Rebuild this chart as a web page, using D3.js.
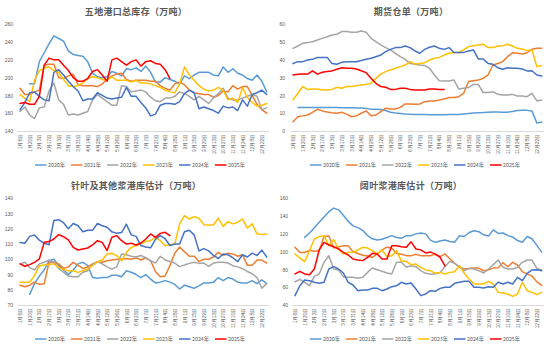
<!DOCTYPE html>
<html><head><meta charset="utf-8">
<script src="https://cdn.jsdelivr.net/npm/d3@7"></script>
<style>
html,body{margin:0;padding:0;background:#fff;}
svg{display:block;font-family:"Noto Sans CJK SC","Noto Sans",sans-serif;}
</style></head>
<body>
<svg id="chart" width="550" height="348"></svg>
<script>
// ---------- categories ----------
const weeks = ["1月6日","1月13日","1月20日","1月27日","2月3日","2月10日","2月17日","2月24日","3月3日","3月10日",
"3月17日","3月24日","3月31日","4月7日","4月14日","4月21日","4月28日","5月5日","5月12日","5月19日",
"5月26日","6月2日","6月9日","6月16日","6月23日","6月30日","7月7日","7月14日","7月21日","7月28日",
"8月4日","8月11日","8月18日","8月25日","9月1日","9月8日","9月15日","9月22日","9月29日","10月6日",
"10月13日","10月20日","10月27日","11月3日","11月10日","11月17日","11月24日","12月1日","12月8日","12月15日",
"12月22日","12月29日"];
const years = ["2020年","2021年","2022年","2023年","2024年","2025年"];
const colors = ["#5B9BD5","#ED7D31","#A5A5A5","#FFC000","#4472C4","#FF0000"];
const titles = ["五地港口总库存（万吨）","期货仓单（万吨）","针叶及其他浆港库估计（万吨）","阔叶浆港库估计（万吨）"];
const yTicks1 = [140,160,180,200,220,240,260];
const yTicks2 = [0,10,20,30,40,50,60];
const yTicks3 = [70,80,90,100,110,120,130,140];
const yTicks4 = [40,60,80,100,120,140,160];
const _ = null;

// ---------- panel 1: 五地港口总库存 ----------
const p1_2020 = [_,_,193,193,218,228,238,247,244,241,230,226,225,224,218,205,201,200,201,207,205,202,210,209,211,207,213,206,195,195,200,198,196,193,202,199,203,206,206,206,203,202,212,206,210,205,203,199,197,203,196,184];
const p1_2021 = [188,181,181,184,186,214,215,215,200,199,202,204,192,191,191,191,190,193,198,202,204,205,198,196,197,197,197,196,196,191,188,186,193,195,192,186,183,182,181,181,178,180,185,184,191,187,190,190,180,170,164,160];
const p1_2022 = [162,167,158,154,166,167,185,194,175,170,158,159,158,160,162,175,181,177,173,169,169,191,190,184,185,186,184,178,174,173,177,177,179,184,182,179,175,179,175,171,177,182,188,177,175,175,177,179,181,179,164,166];
const p1_2023 = [181,177,173,197,208,211,212,208,206,198,191,190,191,194,199,201,200,198,197,201,197,197,197,195,197,194,194,193,191,189,186,184,183,193,212,203,197,191,187,185,186,189,186,175,177,172,189,178,172,168,169,171];
const p1_2024 = [164,172,183,184,179,175,174,206,209,203,196,190,185,174,176,176,183,180,177,176,177,178,189,179,179,172,166,157,159,169,171,171,170,173,182,186,183,165,167,165,163,160,168,166,167,163,175,168,181,183,186,181];
const p1_2025 = [171,172,170,170,179,214,222,220,220,214,208,200,196,196,199,207,209,203,196,220,222,218,214,218,220,213,218,219,216,215,209,199,_,_,_,_,_,_,_,_,_,_,_,_,_,_,_,_,_,_,_,_];

// ---------- panel 2: 期货仓单 ----------
const p2_2020 = [_,13.2,13.2,13.2,13.2,13.2,13.2,13.2,13.2,13.2,13.1,13.1,13.1,13.0,12.9,12.6,12.3,12.2,12.1,11.5,10.5,10.1,9.8,9.5,9.4,9.3,9.3,9.3,9.2,9.1,9.1,9.2,9.3,9.3,9.3,9.6,9.9,10.1,10.3,10.4,10.6,10.7,10.7,10.6,10.6,11.0,11.5,11.6,11.6,11.3,4.5,5.0];
const p2_2021 = [5.2,8.0,8.5,9.0,10.5,12.2,11.3,10.7,10.3,10.0,10.5,9.5,8.0,8.5,10.0,11.3,8.6,9.0,10.9,12.8,12.4,12.4,13.3,15.2,15.2,15.0,15.2,16.5,16.9,16.9,17.4,18.0,18.8,18.8,19.3,21.2,27.8,28.3,28.7,29.6,31.5,37.1,38.0,39.0,41.8,44.0,43.7,43.3,44.0,46.0,46.5,46.5];
const p2_2022 = [46.5,47.8,49.3,49.7,50.2,51.2,52.1,53.0,54.0,54.4,55.9,55.9,55.5,55.5,56.2,55.5,52.1,50.2,48.4,46.9,45.6,43.7,41.8,40.3,38.0,37.5,37.1,36.8,35.3,31.5,28.3,28.1,28.1,28.7,23.6,24.0,24.4,26.2,26.2,21.6,21.6,22.1,20.6,20.2,20.2,20.6,19.7,19.7,19.3,21.2,16.9,17.4];
const p2_2023 = [17.5,21.2,25.0,23.4,23.6,23.6,23.1,23.1,23.4,24.6,24.0,25.0,25.0,25.5,25.9,26.2,26.8,29.6,32.0,33.4,34.3,35.3,36.2,37.1,39.0,37.7,38.0,38.4,39.9,40.9,41.4,42.7,43.7,44.2,44.2,45.6,47.4,48.0,48.4,48.8,46.9,46.9,47.8,48.0,48.8,47.8,46.5,46.1,45.2,45.6,36.2,36.8];
const p2_2024 = [38.0,39.0,39.0,39.9,40.3,41.3,41.4,41.4,38.0,37.5,38.6,39.0,39.0,39.0,39.6,40.3,40.9,41.8,42.7,44.6,45.9,46.9,46.9,47.8,46.9,45.0,43.7,45.9,47.1,47.8,46.5,45.9,46.9,44.1,44.2,44.2,45.0,45.6,40.5,40.5,38.0,37.5,35.6,34.7,35.6,35.3,35.3,34.9,33.8,33.9,31.5,30.9];
const p2_2025 = [31.5,31.9,32.1,32.0,33.8,32.0,33.0,33.4,33.8,34.7,35.6,35.3,35.3,34.9,33.9,32.8,29.6,26.8,25.0,24.6,23.4,23.4,24.0,24.0,23.4,23.1,23.1,23.1,23.6,23.6,23.4,23.4,_,_,_,_,_,_,_,_,_,_,_,_,_,_,_,_,_,_,_,_];

// ---------- panel 3: 针叶及其他浆港库估计 ----------
const p3_2020 = [_,_,77,84,89,93,99,100,96,93,90,93,97,98,96,88,87.5,88,88,89.5,89.5,88.5,92.5,91.5,90,88,90,87,84.5,85,86,85,83.5,80.5,83,82,81,82.5,84.5,84.5,85,88,86,88,87,85,84.5,84.5,86,84,86.5,84];
const p3_2021 = [83,82,83,85,83.5,84,98,98,97,94,95,98,96,94,95,97,98,98,99,99.5,100,100,100.5,100,101,99.5,101,99,92,88.5,89,96,104,108,105,102,102,98.5,100,100,101.5,104.5,102.5,104,103.5,102,103,96,96,99.5,99.5,97.5];
const p3_2022 = [97,98,94.5,93,97,98,99.5,98,94,91.5,89,88.5,88.5,91.5,92.5,97,98.5,97,95,93.5,95,103.5,103,102,101.5,102.5,101,99,97.5,102,99.5,98.5,97.5,95.2,96.3,97.3,98,97.3,97.5,95.4,97.5,98,98,97.5,95.8,95,93.8,92,90.5,88,81,84];
const p3_2023 = [85,85,85,89.3,95.8,96.3,96.5,97,94.7,93.2,92.5,92.5,91.4,92.5,93.6,95.8,98.4,99.5,103.5,103.9,102.4,99,104.6,107.8,108.9,110,111.8,112.2,114.4,112.2,108.9,109.6,110,123.2,128.6,126.4,128,126.9,122.7,122.5,122.5,126.9,121.6,124.7,123.2,124.3,126.4,120.5,123.2,116.6,116.2,116.6];
const p3_2024 = [111,110.5,115,116,112.5,110.5,109.5,125.5,126,124,120,123.5,122,118,119,119,123.5,122,121,118,117,117.5,123,116,115,109,108,107.5,113,115.5,113.5,109,110,110,118,119,116,105.5,107,105.5,102.5,100.5,103.5,103,101,98.5,103,101.5,104,102.5,106,101.5];
const p3_2025 = [97,95.4,96.5,98,100.2,111.1,111.6,113.3,116.2,114.8,112.7,107.8,106.1,106.8,107.4,109.4,112.2,111.1,105.7,114.4,115.5,112.2,110,110.5,109.4,110.7,113.3,116.6,114.4,117,117.7,115.5,_,_,_,_,_,_,_,_,_,_,_,_,_,_,_,_,_,_,_,_];

// ---------- panel 4: 阔叶浆港库估计 ----------
const p4_2020 = [_,_,116,121,127,133,139,145,149,147,141,134,129,127,124,118,114.5,113,114,116,118,116,115,118,118,120,121,120,113,110.5,112,113,111.5,110.5,118,117,121.5,123.5,122.5,119,117.5,124.5,120.5,121,118,116.5,112.5,110.5,117,114.5,107,99.5];
const p4_2021 = [105,99,99,101.5,100.5,101,117,117.5,104,105.5,106.5,106.5,100,98,96,95,93.5,97.5,102,105,104,98,97,95.5,95.5,97,95.5,95.5,95.5,97,94.5,97.5,92,87,82.5,80.5,81,81.5,81.5,78.5,79.5,81.5,82,87.5,83,88,85,77.5,75,72.5,66,62];
const p4_2022 = [66.2,68.9,65.5,61.7,72.2,74.9,88,95.5,80.5,79.4,71.9,71.1,71.1,70,71.1,76.7,81.6,79.7,77.9,76,74.9,88,88,82.4,84.2,83.1,78.6,75.6,74.9,74.9,76.7,83.1,89.1,86.9,83.1,78.6,81.2,80.5,78.6,76,80.5,85.4,90.6,82.4,80.5,80.5,82.4,88,90.6,90.6,81.2,79.4];
const p4_2023 = [97.4,92.9,88.7,101.1,114.2,116.9,118,106.7,113.5,103,97.4,99.2,99.2,101.9,104.9,104.1,101.1,97.4,101.9,94.4,95.5,101.1,89.1,89.1,85.4,86.1,82.4,79.4,78.6,75.6,76.7,74.9,76.7,77.5,84.2,75.6,69.2,63.6,63.6,63.6,66.6,63.6,54.2,53.5,52.4,49.7,52.4,65.5,56.1,54.2,51.6,54.2];
const p4_2024 = [50.5,61.7,68.1,67.4,65.5,64.4,65.5,80.5,83.1,80.5,76,65.5,62.5,56.1,56.9,56.9,58.7,58.7,56.1,58,60.6,61.7,65.5,63.6,64.7,58,50.5,52.4,56.1,55.4,58.7,59.9,59.9,64.4,65.5,66.6,66.6,59.9,59.9,59.1,60.6,59.9,65.5,63.6,65.5,63.6,71.1,67.4,75.6,79.4,79.7,78.6];
const p4_2025 = [74.9,77.9,74.9,74.1,80.5,101.9,110.5,107.5,105.6,103,99.2,96.2,91.7,90.6,89.9,93.6,98.1,97.4,91.7,91.7,106.7,106.7,105.6,105,111,103,102,98.5,99.5,97.5,93.5,84,_,_,_,_,_,_,_,_,_,_,_,_,_,_,_,_,_,_,_,_];

// ---------- layout ----------
const panels = [
  {title:titles[0], ticks:yTicks1, series:[p1_2020,p1_2021,p1_2022,p1_2023,p1_2024,p1_2025], ox:0,   oy:0,   x0:20, yl:13},
  {title:titles[1], ticks:yTicks2, series:[p2_2020,p2_2021,p2_2022,p2_2023,p2_2024,p2_2025], ox:275, oy:0,   x0:18, yl:10},
  {title:titles[2], ticks:yTicks3, series:[p3_2020,p3_2021,p3_2022,p3_2023,p3_2024,p3_2025], ox:0,   oy:174, x0:20, yl:13},
  {title:titles[3], ticks:yTicks4, series:[p4_2020,p4_2021,p4_2022,p4_2023,p4_2024,p4_2025], ox:275, oy:174, x0:20, yl:13}
];
const PW = 275, TOP = 24.3, BOT = 131, XEND = 266.7;
const txt = "#595959";

const svg = d3.select("#chart");

panels.forEach(p => {
  const g = svg.append("g").attr("transform", `translate(${p.ox},${p.oy})`);
  const x = d3.scalePoint().domain(weeks).range([p.x0, XEND]);
  const y = d3.scaleLinear().domain(d3.extent(p.ticks)).range([BOT, TOP]);
  const step = x.step();

  // title
  g.append("text").attr("x", 136).attr("y", 14.5).attr("text-anchor","middle")
    .attr("font-size", 9).attr("font-weight", "bold").attr("fill", txt)
    .attr("letter-spacing", 0.3).text(p.title);

  // y axis labels
  const ya = g.append("g").attr("transform", `translate(${p.yl},0)`)
    .call(d3.axisLeft(y).tickValues(p.ticks).tickSize(0).tickPadding(0));
  ya.select(".domain").remove();
  ya.selectAll("text").attr("font-size", 5).attr("fill", txt).attr("font-family", '"Liberation Sans",Arial,sans-serif');

  // category axis line
  g.append("line").attr("x1", p.x0 - step/2).attr("x2", XEND + step/2)
    .attr("y1", BOT + 0.5).attr("y2", BOT + 0.5).attr("stroke", "#D9D9D9").attr("stroke-width", 1);

  // x labels
  const xa = g.append("g").attr("transform", `translate(0,${BOT})`)
    .call(d3.axisBottom(x).tickValues(weeks.filter((d,i) => i % 2 === 0)).tickSize(0));
  xa.select(".domain").remove();
  xa.selectAll("text").attr("transform","rotate(-90)").attr("x",-3).attr("y",0).attr("dy","0.35em")
    .style("text-anchor","end").attr("font-size", 4.6).attr("fill", txt);

  // lines
  const line = d3.line().defined(d => d.v !== null).x(d => x(d.w)).y(d => y(d.v));
  p.series.forEach((s, k) => {
    g.append("path").datum(s.map((v,i) => ({w: weeks[i], v})))
      .attr("fill","none").attr("stroke", colors[k]).attr("stroke-width", 1.5)
      .attr("stroke-linejoin","round").attr("stroke-linecap","round").attr("d", line);
  });

  // legend
  const lg = g.append("g").attr("transform", "translate(35,165)");
  years.forEach((yr, k) => {
    const it = lg.append("g").attr("transform", `translate(${k*36},0)`);
    it.append("line").attr("x1",0).attr("x2",11.5).attr("y1",0).attr("y2",0)
      .attr("stroke", colors[k]).attr("stroke-width", 1.5);
    it.append("text").attr("x",13).attr("y",0).attr("dy","0.35em").attr("font-size",5.3)
      .attr("fill", txt).text(yr);
  });
});
</script>
</body></html>
